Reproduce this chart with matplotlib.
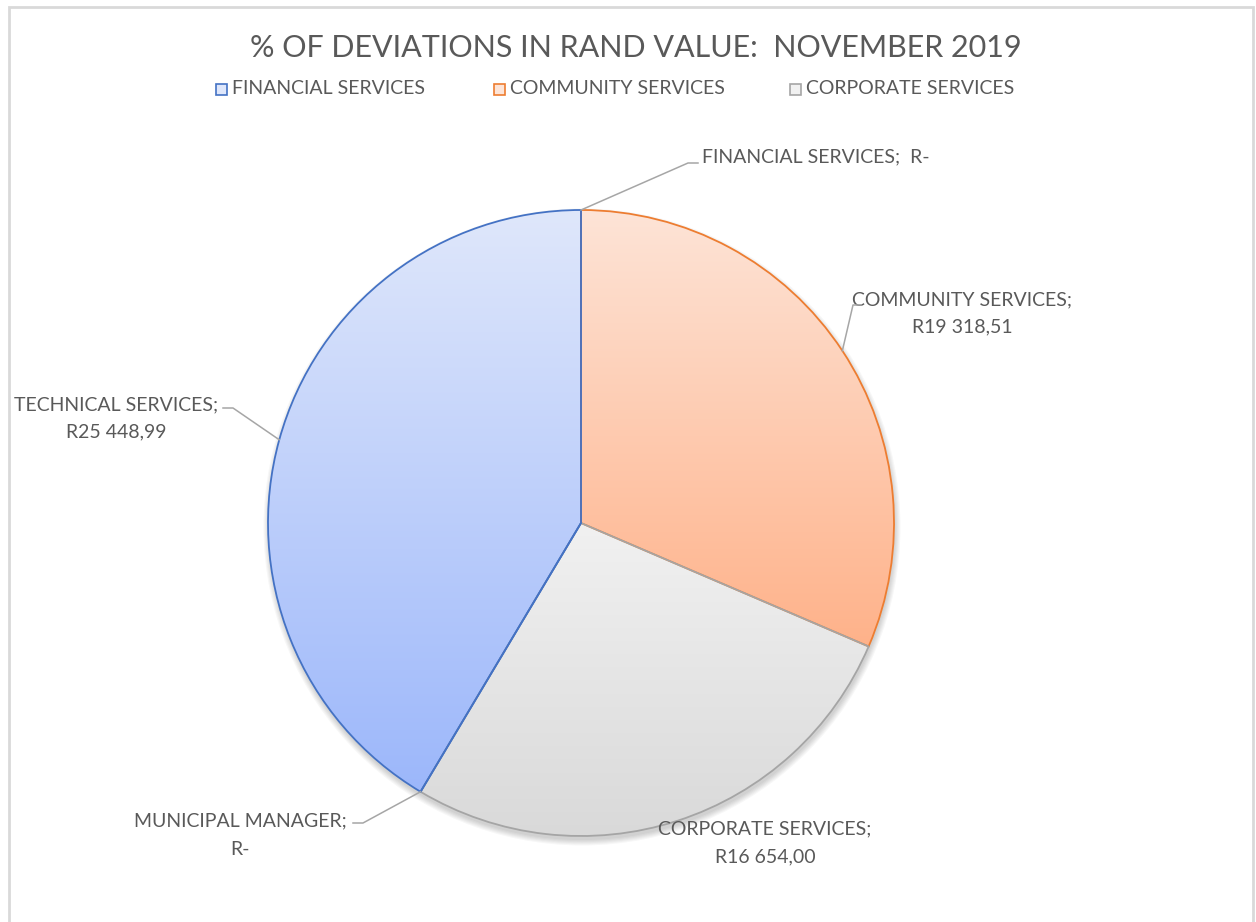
import numpy as np
import matplotlib
matplotlib.use("Agg")
import matplotlib.pyplot as plt
from matplotlib import font_manager
from matplotlib.colors import LinearSegmentedColormap
from matplotlib.patches import Rectangle, Circle

# departments and rand values for November 2019
departments = ["FINANCIAL SERVICES", "COMMUNITY SERVICES", "CORPORATE SERVICES",
               "MUNICIPAL MANAGER", "TECHNICAL SERVICES"]
rand_values = [0.0, 19318.51, 16654.00, 0.0, 25448.99]
legend_names = ["FINANCIAL SERVICES", "COMMUNITY SERVICES", "CORPORATE SERVICES"]
title = "% OF DEVIATIONS IN RAND VALUE:  NOVEMBER 2019"

# gradient fills (top colour, bottom colour) and outline per slice
grad_top = ["#dfe7fb", "#fde4d7", "#f1f1f1", "#dfe7fb", "#dfe7fb"]
grad_bot = ["#9cb7fa", "#ffb28a", "#d9d9d9", "#9cb7fa", "#9cb7fa"]
edges = ["#4472c4", "#ed7d31", "#a5a5a5", "#4472c4", "#4472c4"]

names = {f.name for f in font_manager.fontManager.ttflist}
FONT = "Liberation Sans Narrow" if "Liberation Sans Narrow" in names else "Lato"
plt.rcParams["font.family"] = [FONT, "DejaVu Sans"]
TXT = "#595959"

W, H = 1256, 922
fig = plt.figure(figsize=(W / 100, H / 100), dpi=100)
ax = fig.add_axes([0, 0, 1, 1])

def fy(y):
    # pixel row -> axes y
    return H - y

cx, cy, R = 581, fy(523), 313

# soft shadow under the pie, pushed down a little
for k in range(6):
    ax.add_patch(Circle((cx + 1, cy - 4), R + k * 1.1, color="#000000",
                        alpha=0.03, lw=0, zorder=1))
ax.add_patch(Circle((cx, cy), R, color="white", lw=0, zorder=1.5))

wedges, _ = ax.pie(rand_values, center=(cx, cy), radius=R, startangle=90,
                   counterclock=False,
                   wedgeprops=dict(facecolor="none", linewidth=1.3))
for w, ec, top, bot in zip(wedges, edges, grad_top, grad_bot):
    w.set_edgecolor(ec)
    w.set_zorder(3)
    if abs(w.theta2 - w.theta1) < 1e-9:
        continue
    v = w.get_path().vertices
    x0, x1 = v[:, 0].min(), v[:, 0].max()
    y0, y1 = v[:, 1].min(), v[:, 1].max()
    cmap = LinearSegmentedColormap.from_list("g", [top, bot])
    grad = np.linspace(0, 1, 256).reshape(-1, 1)
    im = ax.imshow(grad, cmap=cmap, extent=(x0, x1, y0, y1), origin="upper",
                   aspect="auto", interpolation="bilinear", zorder=2)
    im.set_clip_path(w)

# the blue border lines of the technical slice sit on top
wedges[4].set_zorder(4)

ax.set_xlim(0, W)
ax.set_ylim(0, H)
ax.set_aspect("auto")
ax.axis("off")

def fmt_rand(v):
    if v == 0:
        return "R-"
    s = f"{v:,.2f}"
    return "R" + s.replace(",", " ").replace(".", ",")

def edge_point(w):
    mid = np.deg2rad((w.theta1 + w.theta2) / 2)
    return cx + R * np.cos(mid), cy + R * np.sin(mid)

fs = 14
lead = "#a6a6a6"
lab = [d + ";" for d in departments]
vals = [fmt_rand(v) for v in rand_values]

# financial services (single line)
px, py = edge_point(wedges[0])
ax.plot([px, 688, 698], [py, fy(163), fy(163)], color=lead, lw=1.1, zorder=5)
ax.text(702, fy(157), lab[0] + "  " + vals[0], fontsize=fs, color=TXT,
        ha="left", va="center")

# community services
px, py = edge_point(wedges[1])
ax.plot([px, 853, 861], [py, fy(305), fy(305)], color=lead, lw=1.1, zorder=5)
ax.text(962, fy(300), lab[1], fontsize=fs, color=TXT, ha="center", va="center")
ax.text(962, fy(327), vals[1], fontsize=fs, color=TXT, ha="center", va="center")

# corporate services
ax.text(765, fy(829), lab[2], fontsize=fs, color=TXT, ha="center", va="center")
ax.text(765, fy(857), vals[2], fontsize=fs, color=TXT, ha="center", va="center")

# municipal manager
px, py = edge_point(wedges[3])
ax.plot([px, 363, 353], [py, fy(823), fy(823)], color=lead, lw=1.1, zorder=5)
ax.text(240, fy(821), lab[3], fontsize=fs, color=TXT, ha="center", va="center")
ax.text(240, fy(849), vals[3], fontsize=fs, color=TXT, ha="center", va="center")

# technical services
px, py = edge_point(wedges[4])
ax.plot([px, 233, 223], [py, fy(408), fy(408)], color=lead, lw=1.1, zorder=5)
ax.text(116, fy(405), lab[4], fontsize=fs, color=TXT, ha="center", va="center")
ax.text(116, fy(432), vals[4], fontsize=fs, color=TXT, ha="center", va="center")

# title
ax.text(636, fy(48), title, fontsize=22, color=TXT, ha="center", va="center")

# legend entries
leg_x = [216, 494, 790]
for name, x, top, bot, ec in zip(legend_names, leg_x, grad_top, grad_bot, edges):
    ax.add_patch(Rectangle((x, fy(95)), 11, 11, facecolor=top, edgecolor=ec,
                           lw=1.2, zorder=5))
    ax.text(x + 16, fy(89), name, fontsize=fs, color=TXT, ha="left", va="center")

# chart frame
ax.add_patch(Rectangle((9, -10), 1244, fy(7) + 10, fill=False,
                       edgecolor="#d9d9d9", lw=2, zorder=6))

fig.savefig("out.png", dpi=100)
